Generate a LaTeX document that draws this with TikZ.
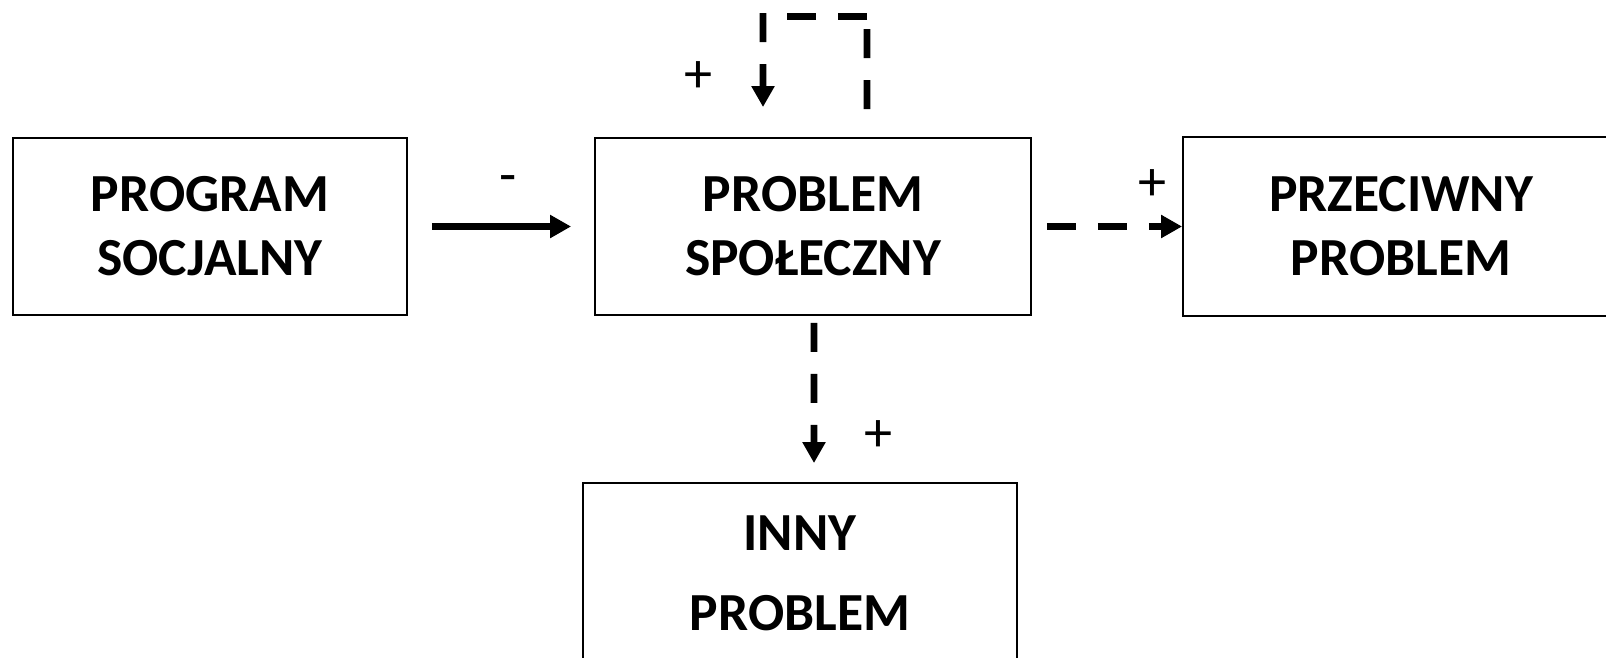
\documentclass[tikz,border=0pt]{standalone}
\usepackage{fontspec}
\setmainfont{Carlito}
\usetikzlibrary{arrows.meta}

\begin{document}
\begin{tikzpicture}[x=0.02cm, y=-0.02cm,
	box/.style={draw, line width=1.1pt, align=center, inner sep=0pt,
		font=\fontsize{30.5}{36.4}\selectfont\bfseries},
	dashedline/.style={line width=3.8pt, dash pattern=on 0.58cm off 0.44cm},
	flow/.style={line width=3.8pt, -{Triangle[length=0.42cm, width=0.44cm]}},
	dashedflow/.style={flow, dashedline},
	sign/.style={inner sep=0pt, font=\fontsize{32}{36}\selectfont}]
	\useasboundingbox (0,0) rectangle (1606,657);
	\node (program) [box, minimum width=7.88cm, minimum height=3.54cm] at (210,226.5) {PROGRAM\\SOCJALNY};
	\node (problem) [box, minimum width=8.72cm, minimum height=3.54cm] at (813,226.5) {PROBLEM\\SPOŁECZNY};
	\node (przeciwny) [box, minimum width=8.72cm, minimum height=3.58cm] at (1401,226.5) {PRZECIWNY\\PROBLEM};
	\node (inny) [box, minimum width=8.68cm, minimum height=3.6cm,
		font=\fontsize{30.5}{45.5}\selectfont\bfseries] at (800,573) {INNY\\PROBLEM};
	\coordinate (loopright) at (867,16.7);
	\coordinate (loopleft) at (763,16.7);
	\draw[flow, shorten <=0.48cm, shorten >=0.46cm] (program) -- (problem);
	\draw[dashedflow, shorten <=0.3cm] (problem) -- (przeciwny);
	\draw[dashedflow, shorten <=0.14cm, shorten >=0.38cm] ([xshift=0.02cm]problem.south) -- ([xshift=0.28cm]inny.north);
	\draw[dashedline, shorten <=0.56cm] ([xshift=1.08cm]problem.north) -- (loopright);
	\draw[dashedline] (loopright) -- (loopleft);
	\draw[dashedflow, shorten >=0.6cm] ([yshift=0.07cm]loopleft) -- ([xshift=-1cm]problem.north);
	\node (minus) [sign] at (508,185) {-};
	\node (plusright) [sign] at (1152,185) {+};
	\node (plusdown) [sign] at (878,436) {+};
	\node (plusloop) [sign] at (698,77) {+};
\end{tikzpicture}
\end{document}
